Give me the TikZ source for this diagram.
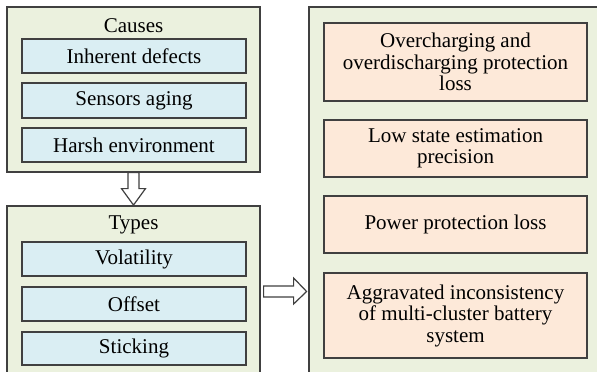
\documentclass[tikz,border=0pt]{standalone}
\usepackage{fontspec}
\setmainfont{Liberation Serif}
\usetikzlibrary{calc}
\definecolor{panelgreen}{HTML}{EBF1DE}
\definecolor{itemblue}{HTML}{DAEEF3}
\definecolor{itempeach}{HTML}{FDE9D9}
\definecolor{edgegray}{HTML}{404040}
\tikzset{
  panel/.style={draw=edgegray, line width=1.2pt, fill=panelgreen},
  item/.style={draw=edgegray, line width=1.6pt, fill=itemblue, inner sep=0pt,
    minimum width=224pt, align=center},
  effect/.style={draw=edgegray, line width=1.6pt, fill=itempeach, inner sep=0pt,
    minimum width=263pt, align=center},
  title/.style={inner sep=0pt},
  hollow/.style={draw=edgegray, line width=1.2pt, fill=white, line join=miter}
}
\begin{document}
\begin{tikzpicture}[x=1pt, y=-1pt, font=\fontsize{21}{21.5}\selectfont]
\useasboundingbox (0,0) rectangle (597,372);
\fill[white] (0,0) rectangle (597,372);
\begin{scope}
  \clip (0,0) rectangle (597,372);
  % panels
  \node[panel, minimum width=253pt, minimum height=165pt, inner sep=0pt] (causes) at (133.5,89.5) {};
  \node[panel, minimum width=253pt, minimum height=200pt, inner sep=0pt] (types) at (133.5,306) {};
  \node[panel, minimum width=320pt, minimum height=400pt, inner sep=0pt] (effects) at (469,207) {};
\end{scope}

% causes column
\node[title] (causesT) at (133.5,26) {Causes};
\node[item, minimum height=34pt] (c1) at (134,56) {Inherent defects};
\node[item, minimum height=35pt] (c2) at (134,100.5) {Sensors aging};
\node[item, minimum height=34pt] (c3) at (134,145) {Harsh environment};

% types column
\node[title] (typesT) at (133.5,225) {Types};
\node[item, minimum height=34pt] (t1) at (134,259) {Volatility};
\node[item, minimum height=34pt] (t2) at (134,304) {Offset};
\node[item, minimum height=33pt] (t3) at (134,348.5) {Sticking};

% consequences column
\node[effect, minimum height=78pt] (r1) at (455.5,62)
  {Overcharging and\\overdischarging protection\\loss};
\node[effect, minimum height=57pt] (r2) at (455.5,148.5)
  {Low state estimation\\precision};
\node[effect, minimum height=57pt] (r3) at (455.5,224.5)
  {Power protection loss};
\node[effect, minimum height=85pt] (r4) at (455.5,315.5)
  {Aggravated inconsistency\\of multi-cluster battery\\system};

% hollow block arrows between panels
\coordinate (dA) at (causes.south);
\draw[hollow] ($(dA)+(-5.5,0)$) -- ($(dA)+(5.5,0)$) -- ($(dA)+(5.5,16)$)
  -- ($(dA)+(12,16)$) -- ($(dA)+(0,32.5)$) -- ($(dA)+(-12,16)$)
  -- ($(dA)+(-5.5,16)$) -- cycle;
\coordinate (rA) at ($(types.east |- 0,291.5)+(3,0)$);
\draw[hollow] ($(rA)+(0,-5.5)$) -- ($(rA)+(30,-5.5)$) -- ($(rA)+(30,-13.5)$)
  -- ($(rA)+(43,0)$) -- ($(rA)+(30,12.5)$) -- ($(rA)+(30,5.5)$)
  -- ($(rA)+(0,5.5)$) -- cycle;
\end{tikzpicture}
\end{document}
